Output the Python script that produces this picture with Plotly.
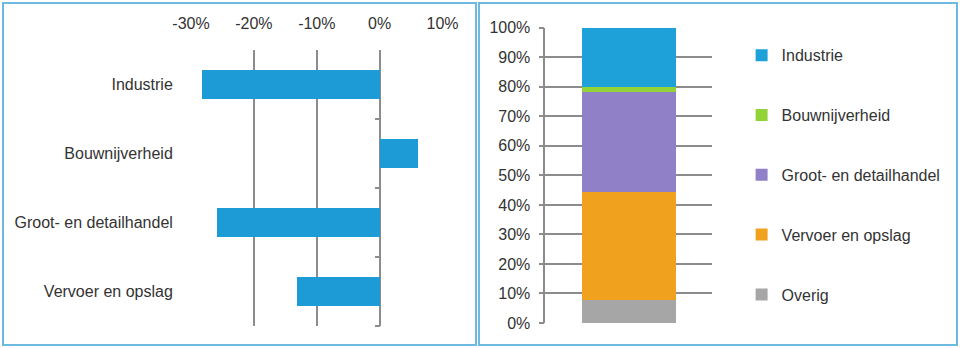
import plotly.graph_objects as go

# Left chart: change per sector (%)
sectors = ["Industrie", "Bouwnijverheid", "Groot- en detailhandel", "Vervoer en opslag"]
change_pct = [-28.2, 6.1, -25.8, -13.1]
x_ticks = [-30, -20, -10, 0, 10]

# Right chart: composition (%)
comp_names = ["Overig", "Vervoer en opslag", "Groot- en detailhandel", "Bouwnijverheid", "Industrie"]
comp_values = [7.8, 36.5, 33.8, 2.0, 19.9]
comp_colors = ["#a6a6a6", "#f0a21e", "#8f80c8", "#92d438", "#1ea1d9"]
y_ticks = [0, 10, 20, 30, 40, 50, 60, 70, 80, 90, 100]

FONT = "Liberation Sans Narrow, Arial Narrow, Liberation Sans, Arial, sans-serif"
TXT = "#333333"
GRID = "#8c8c8c"

fig = go.Figure()

fig.add_trace(go.Bar(
    x=change_pct, y=sectors, orientation="h",
    marker=dict(color="#1d9bd7", line=dict(width=0)),
    width=0.41, showlegend=False, xaxis="x", yaxis="y",
))
# empty helper trace so the boundary-tick axis at 0% is drawn
fig.add_trace(go.Scatter(
    x=[None], y=[None], mode="markers", showlegend=False, hoverinfo="skip",
    xaxis="x", yaxis="y3",
))

n = len(comp_names)
for i, (name, val, col) in enumerate(zip(comp_names, comp_values, comp_colors)):
    fig.add_trace(go.Bar(
        x=[""], y=[val], name=name, marker=dict(color=col, line=dict(width=0)),
        width=0.56, xaxis="x2", yaxis="y2", legendgroup=name, legendrank=n - i,
    ))

xd = [0.199, 0.461]
xr = [-30, 10]
zero_pos = xd[0] + (0 - xr[0]) / (xr[1] - xr[0]) * (xd[1] - xd[0])

fig.update_layout(
    width=960, height=348,
    margin=dict(l=0, r=0, t=0, b=0, autoexpand=False),
    paper_bgcolor="white", plot_bgcolor="rgba(0,0,0,0)",
    font=dict(family=FONT, size=16, color=TXT),
    barmode="stack",
    xaxis=dict(
        domain=xd, range=xr, side="top", anchor="y", automargin=False,
        tickvals=x_ticks, ticktext=[f"{v}%" for v in x_ticks],
        showgrid=True, gridcolor=GRID, gridwidth=1.5,
        zeroline=True, zerolinecolor=GRID, zerolinewidth=1.5,
        ticks="outside", ticklen=14, tickcolor="rgba(0,0,0,0)",
        showline=False, fixedrange=True,
    ),
    yaxis=dict(
        domain=[0.063, 0.856], anchor="x", automargin=False,
        type="category", categoryarray=sectors, range=[3.5, -0.5],
        showgrid=False, zeroline=False, showline=False,
        ticks="outside", ticklen=14, tickcolor="rgba(0,0,0,0)",
    ),
    yaxis3=dict(
        overlaying="y", anchor="free", position=zero_pos, automargin=False,
        range=[3.5, -0.5], tickvals=[0.5, 1.5, 2.5, 3.5],
        showticklabels=False, showgrid=False, zeroline=False, showline=False,
        ticks="outside", ticklen=5, tickcolor=GRID, tickwidth=1.5,
    ),
    xaxis2=dict(
        domain=[0.568, 0.742], anchor="y2", range=[-0.5, 0.5], automargin=False,
        showticklabels=False, showgrid=False, zeroline=False, showline=False,
    ),
    yaxis2=dict(
        domain=[0.072, 0.920], anchor="x2", range=[0, 100], automargin=False,
        tickvals=y_ticks, ticktext=[f"{v}%" for v in y_ticks],
        showgrid=True, gridcolor=GRID, gridwidth=1.5,
        zeroline=False, showline=True, linecolor=GRID, linewidth=1.5,
        ticks="outside", ticklen=5, tickcolor=GRID, tickwidth=1.5,
        ticklabelstandoff=5,
    ),
    legend=dict(
        x=0.7725, y=0.89, xanchor="left", yanchor="top",
        traceorder="grouped", tracegroupgap=36,
        font=dict(family=FONT, size=16, color=TXT),
        bgcolor="rgba(0,0,0,0)", itemclick=False,
    ),
    shapes=[
        dict(type="rect", xref="paper", yref="paper",
             x0=3 / 960, x1=476 / 960, y0=3 / 348, y1=345 / 348,
             line=dict(color="#6db9e0", width=2)),
        dict(type="rect", xref="paper", yref="paper",
             x0=479 / 960, x1=957 / 960, y0=3 / 348, y1=345 / 348,
             line=dict(color="#6db9e0", width=2)),
    ],
)

fig.write_html("out.html")
